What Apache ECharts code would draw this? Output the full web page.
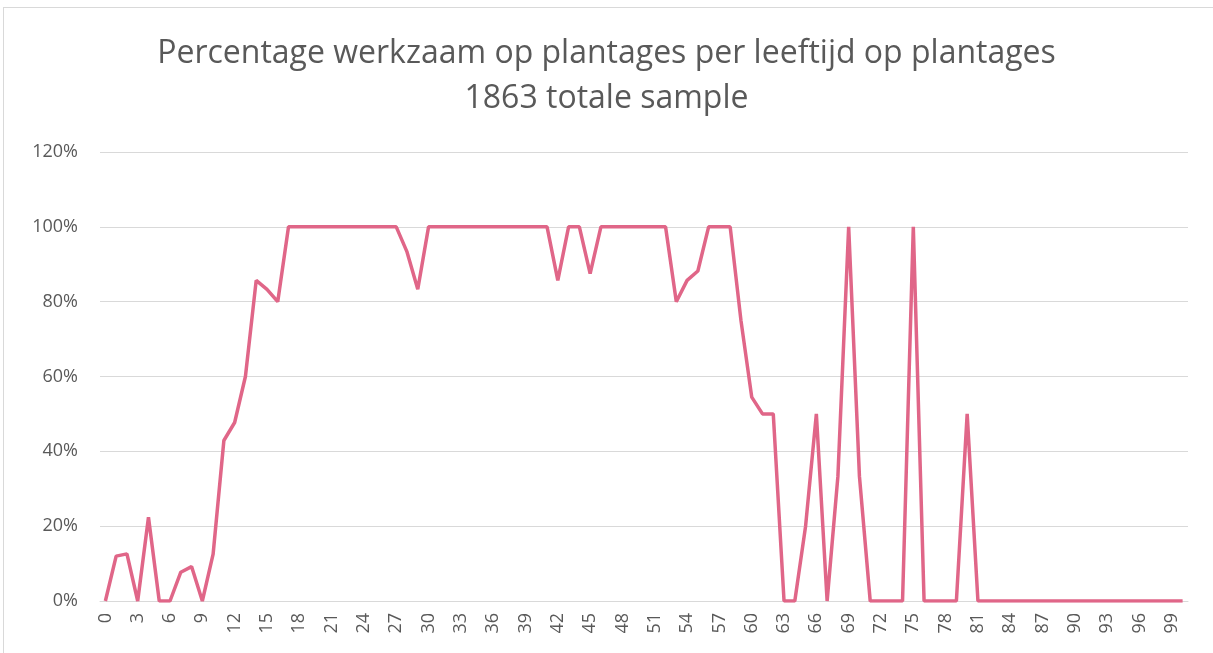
<!DOCTYPE html>
<html>
<head>
<meta charset="utf-8">
<script src="https://cdn.jsdelivr.net/npm/echarts@6/dist/echarts.min.js"></script>
<style>
  html, body { margin: 0; padding: 0; background: #fff; }
  #frame { position: absolute; left: 3px; top: 7px; width: 1220px; height: 660px; border: 1px solid #d9d9d9; box-sizing: border-box; }
  #chart { position: absolute; left: 0; top: 0; width: 1213px; height: 653px; }
</style>
</head>
<body>
<div id="frame"></div>
<div id="chart"></div>
<script>
// leeftijden 0..100
const ages = []
for (let i = 0; i <= 100; i++) ages.push(String(i))

// percentage werkzaam per leeftijd
const percentWorking = [
  0, 0.12, 0.126, 0, 0.224, 0, 0, 0.077, 0.092, 0,
  0.125, 0.429, 0.477, 0.6, 0.857, 0.833, 0.8, 1, 1, 1,
  1, 1, 1, 1, 1, 1, 1, 1, 0.933, 0.833,
  1, 1, 1, 1, 1, 1, 1, 1, 1, 1,
  1, 1, 0.857, 1, 1, 0.875, 1, 1, 1, 1,
  1, 1, 1, 0.8, 0.857, 0.882, 1, 1, 1, 0.75,
  0.545, 0.5, 0.5, 0, 0, 0.2, 0.5, 0, 0.333, 1,
  0.333, 0, 0, 0, 0, 1, 0, 0, 0, 0,
  0.5, 0, 0, 0, 0, 0, 0, 0, 0, 0,
  0, 0, 0, 0, 0, 0, 0, 0, 0, 0,
  0
]

const yTicks = { min: 0, max: 1.2, interval: 0.2 }

const chart = echarts.init(document.getElementById('chart'))
chart.setOption({
  title: {
    text: 'Percentage werkzaam op plantages per leeftijd op plantages\n1863 totale sample',
    left: 'center',
    top: 26,
    textStyle: {
      fontFamily: 'Open Sans',
      fontWeight: 'normal',
      fontSize: 32,
      color: '#595959',
      lineHeight: 45
    }
  },
  grid: { left: 100, right: 25, top: 152, bottom: 52 },
  xAxis: {
    type: 'category',
    data: ages,
    boundaryGap: true,
    axisLine: { lineStyle: { color: '#d9d9d9' } },
    axisTick: { show: false },
    axisLabel: {
      interval: 2,
      rotate: 90,
      fontFamily: 'Open Sans',
      fontSize: 18,
      color: '#595959',
      margin: 12
    }
  },
  yAxis: {
    type: 'value',
    min: yTicks.min,
    max: yTicks.max,
    interval: yTicks.interval,
    axisLine: { show: false },
    axisTick: { show: false },
    splitLine: { lineStyle: { color: '#d9d9d9', width: 1 } },
    axisLabel: {
      formatter: v => Math.round(v * 100) + '%',
      fontFamily: 'Open Sans',
      fontSize: 18,
      color: '#595959',
      margin: 22
    }
  },
  series: [
    {
      name: 'werkzaam',
      type: 'line',
      data: percentWorking,
      symbol: 'none',
      lineStyle: { color: '#e06688', width: 3.5 },
      itemStyle: { color: '#e06688' }
    }
  ]
})
</script>
</body>
</html>
